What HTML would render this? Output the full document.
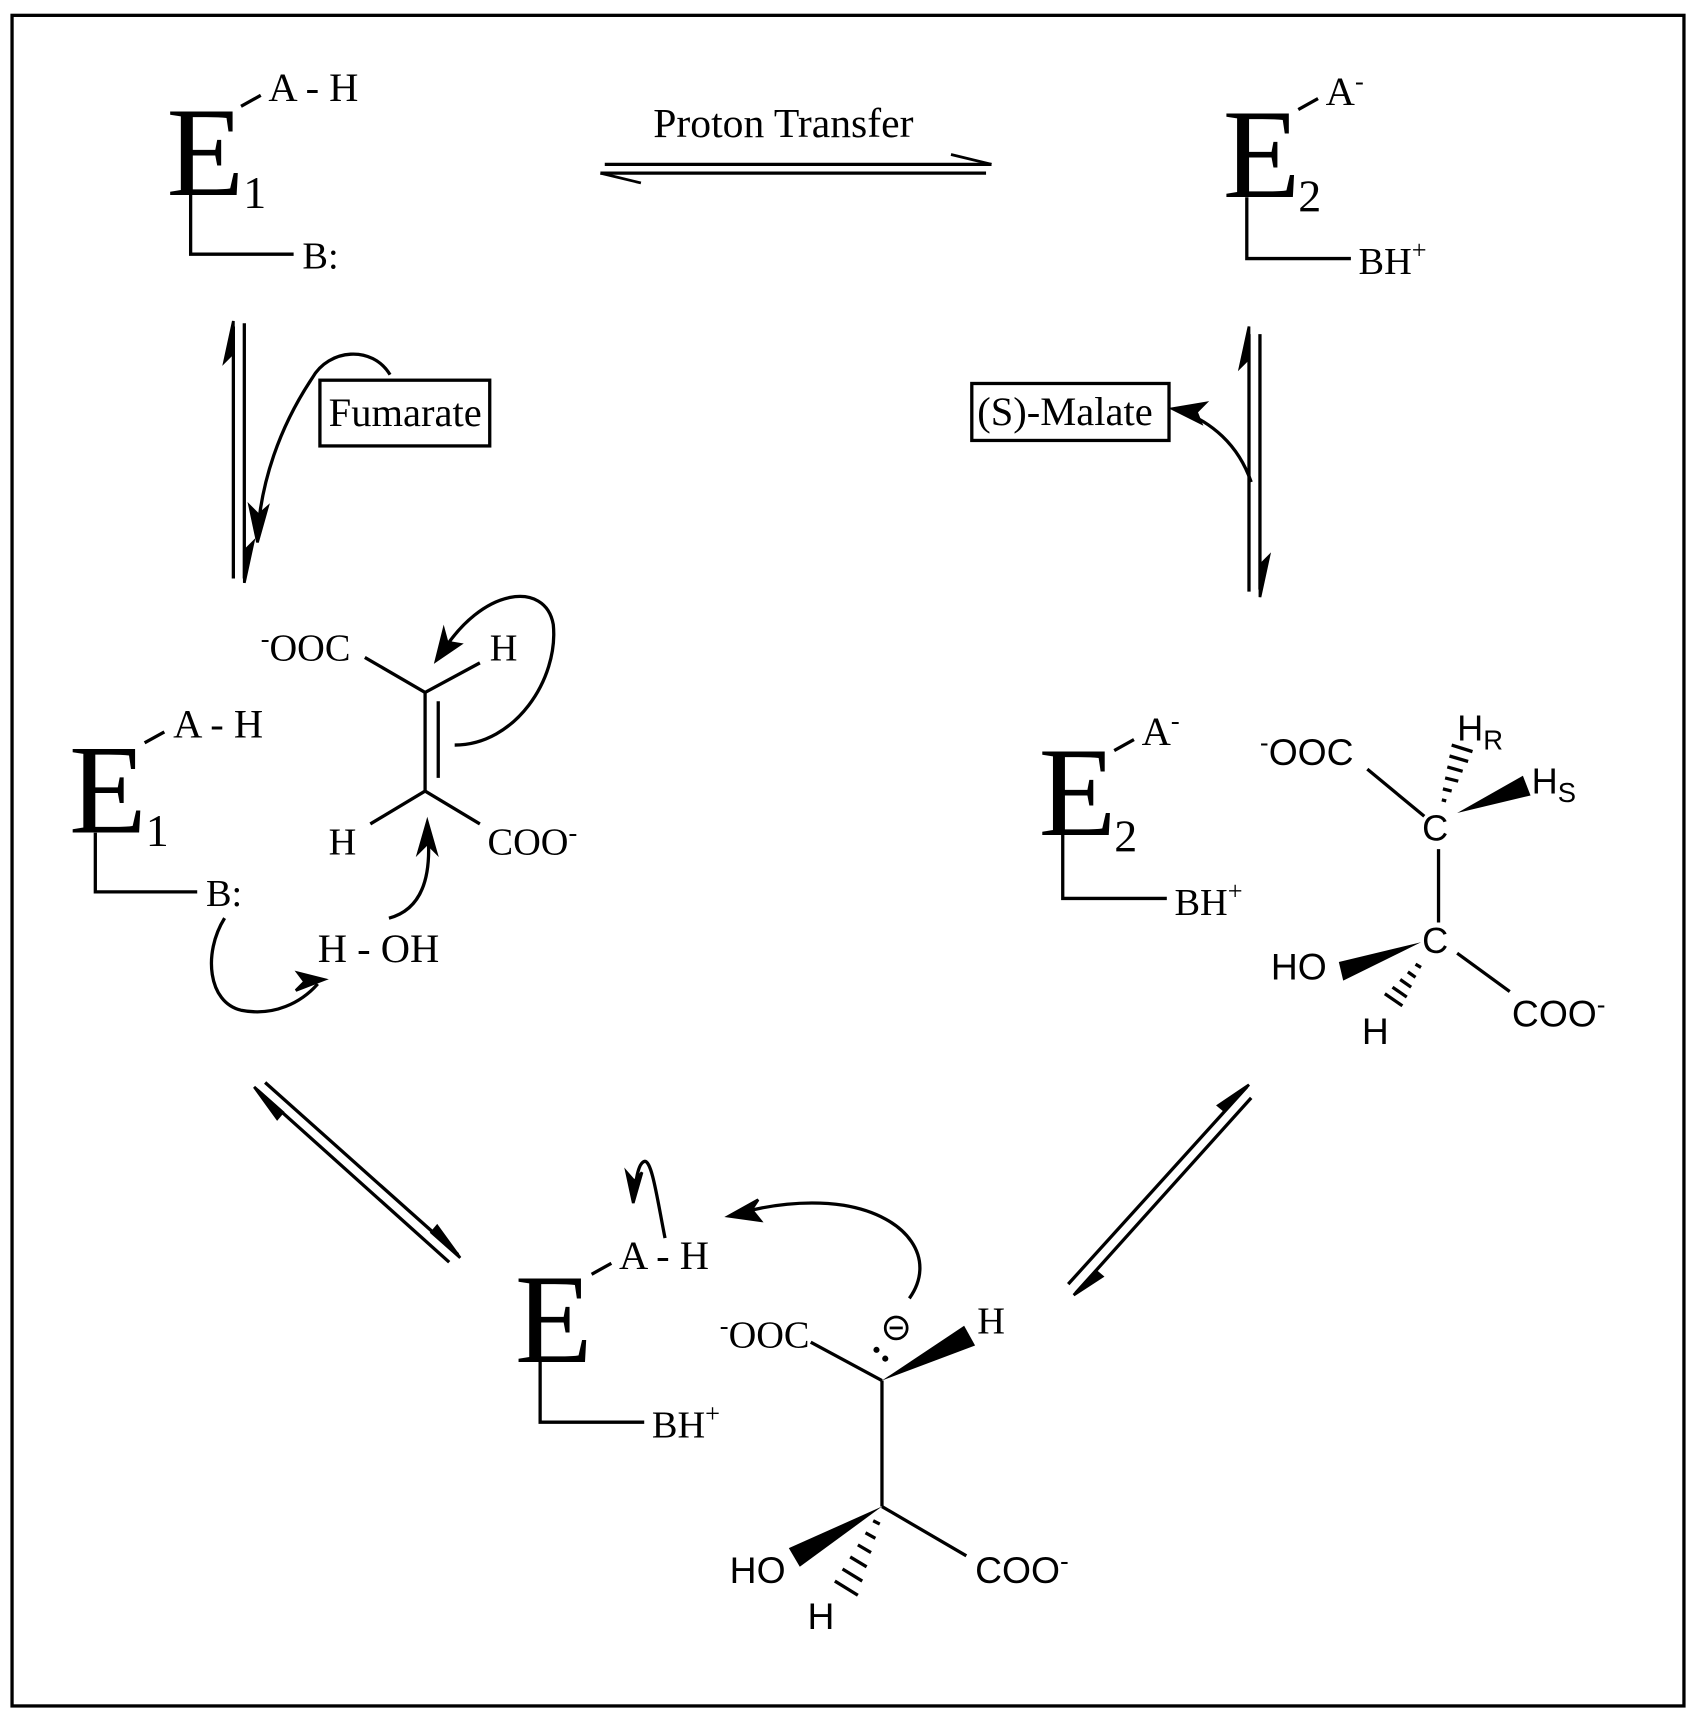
<!DOCTYPE html>
<html><head><meta charset="utf-8"><style>
html,body{margin:0;padding:0;background:#fff;}
svg{display:block}
.s{font-family:"Liberation Serif",serif;}
.a{font-family:"Liberation Sans",sans-serif;}
</style></head><body>
<svg width="1696" height="1718" viewBox="0 0 1548 1568" preserveAspectRatio="none" xmlns="http://www.w3.org/2000/svg">
<rect x="11" y="14" width="1526" height="1543" fill="none" stroke="#000" stroke-width="3"/>
<g stroke="#000" stroke-width="3" fill="none">
<line x1="220" y1="97" x2="238" y2="87"/>
<polyline points="174,178 174,232 268,232"/>
<line x1="1185" y1="100" x2="1203" y2="90"/>
<polyline points="1138,180 1138,236 1233,236"/>
<line x1="552" y1="150" x2="905" y2="150"/>
<line x1="548" y1="158" x2="900" y2="158"/>
<line x1="213" y1="298" x2="213" y2="528"/>
<line x1="223" y1="295" x2="223" y2="528"/>
<path d="M356,342 C340,315 300,318 285,345 C255,390 238,440 235,490"/>
<rect x="292" y="347" width="155" height="60"/>
<line x1="1140" y1="305" x2="1140" y2="540"/>
<line x1="1150" y1="305" x2="1150" y2="538"/>
<path d="M1142,440 C1130,405 1105,385 1078,375"/>
<rect x="887" y="350" width="180" height="52"/>
<line x1="132" y1="678" x2="150" y2="668"/>
<polyline points="87,760 87,814 180,814"/>
<line x1="333" y1="600" x2="388" y2="632"/>
<line x1="388" y1="632" x2="438" y2="605"/>
<line x1="388" y1="632" x2="388" y2="722"/>
<line x1="400" y1="640" x2="400" y2="710"/>
<line x1="388" y1="722" x2="338" y2="752"/>
<line x1="388" y1="722" x2="438" y2="752"/>
<path d="M415,680 C470,680 510,620 505,570 C498,530 440,535 402,598"/>
<path d="M355,838 C385,830 395,800 390,755"/>
<path d="M205,838 C185,870 190,915 220,922 C250,928 275,915 290,898"/>
<line x1="235" y1="995" x2="410" y2="1152"/>
<line x1="242" y1="988" x2="418" y2="1145"/>
<line x1="975" y1="1172" x2="1138" y2="992"/>
<line x1="982" y1="1180" x2="1142" y2="1002"/>
<line x1="540" y1="1163" x2="558" y2="1153"/>
<polyline points="493,1243 493,1298 588,1298"/>
<path d="M607,1130 C600,1095 595,1058 588,1060 C582,1062 580,1080 579,1092"/>
<path d="M830,1185 C855,1150 830,1110 770,1100 C735,1095 700,1100 672,1108"/>
<line x1="740" y1="1225" x2="805" y2="1260"/>
<line x1="805" y1="1260" x2="805" y2="1375"/>
<line x1="805" y1="1375" x2="882" y2="1420"/>
<circle cx="818" cy="1212" r="10" stroke-width="2.5"/>
<line x1="812" y1="1212" x2="824" y2="1212" stroke-width="2.5"/>
<line x1="1017" y1="685" x2="1035" y2="675"/>
<polyline points="970,762 970,820 1065,820"/>
<line x1="1248" y1="702" x2="1300" y2="745"/>
<line x1="1313" y1="775" x2="1313" y2="842"/>
<line x1="1330" y1="870" x2="1378" y2="905"/>
</g>
<g fill="#000" stroke="#000" stroke-width="2.5">
<line x1="905" y1="150" x2="868" y2="141"/>
<line x1="548" y1="158" x2="585" y2="167"/>
<polygon points="213,293 205,330 213,322"/>
<polygon points="223,532 231,495 223,503"/>
<polygon points="1140,298 1132,335 1140,327"/>
<polygon points="1150,545 1158,508 1150,516"/>
<polygon points="232,992 253,1021 258,1015"/>
<polygon points="420,1148 399,1119 394,1125"/>
<polygon points="1140,990 1112,1009 1118,1014"/>
<polygon points="980,1182 1006,1165 1000,1160"/>
<polygon points="235,495 228,462 236,470 244,463"/>
<polygon points="1070,373 1100,368 1092,376 1096,386"/>
<polygon points="398,603 405,575 408,586 420,588"/>
<polygon points="390,750 382,778 390,770 398,778"/>
<polygon points="296,894 270,904 278,896 272,888"/>
<polygon points="578,1098 572,1070 579,1078 586,1070"/>
<polygon points="665,1110 692,1095 686,1104 694,1114"/>
</g>
<g fill="#000">
<polygon points="805,1260 880,1210 890,1228"/>
<polygon points="805,1375 720,1413 730,1430"/>
<circle cx="800" cy="1232" r="2.8"/><circle cx="808" cy="1240" r="2.8"/>
<polygon points="1330,742 1390,708 1397,726"/>
<polygon points="1297,860 1222,878 1226,895"/>
</g>
<g stroke="#000" stroke-width="3">
<line x1="1316" y1="730" x2="1320" y2="731"/>
<line x1="1317" y1="720" x2="1325" y2="722"/>
<line x1="1319" y1="710" x2="1331" y2="713"/>
<line x1="1321" y1="700" x2="1335" y2="704"/>
<line x1="1323" y1="690" x2="1340" y2="695"/>
<line x1="1325" y1="680" x2="1344" y2="686"/>
<line x1="1292" y1="880" x2="1297" y2="883"/>
<line x1="1285" y1="887" x2="1292" y2="892"/>
<line x1="1278" y1="894" x2="1288" y2="901"/>
<line x1="1271" y1="901" x2="1284" y2="910"/>
<line x1="1264" y1="907" x2="1280" y2="918"/>
<line x1="797" y1="1388" x2="803" y2="1391"/>
<line x1="790" y1="1399" x2="799" y2="1404"/>
<line x1="783" y1="1410" x2="795" y2="1417"/>
<line x1="776" y1="1421" x2="791" y2="1430"/>
<line x1="769" y1="1432" x2="787" y2="1443"/>
<line x1="762" y1="1443" x2="783" y2="1456"/>
</g>
<g class="s" fill="#000">
<text x="152" y="178" font-size="116">E</text>
<text x="222" y="190" font-size="42">1</text>
<text x="245" y="92" font-size="37">A - H</text>
<text x="276" y="245" font-size="35">B:</text>
<text x="715" y="125" font-size="38" text-anchor="middle">Proton Transfer</text>
<text x="1116" y="180" font-size="116">E</text>
<text x="1185" y="193" font-size="42">2</text>
<text x="1210" y="96" font-size="37">A<tspan font-size="24" dy="-14">-</tspan></text>
<text x="1240" y="250" font-size="35">BH<tspan font-size="24" dy="-14">+</tspan></text>
<text x="300" y="389" font-size="37">Fumarate</text>
<text x="892" y="388" font-size="37">(S)-Malate</text>
<text x="63" y="760" font-size="116">E</text>
<text x="133" y="772" font-size="42">1</text>
<text x="158" y="673" font-size="37">A - H</text>
<text x="188" y="827" font-size="35">B:</text>
<text x="238" y="603" font-size="35"><tspan font-size="24" dy="-12">-</tspan><tspan dy="12">OOC</tspan></text>
<text x="447" y="603" font-size="35">H</text>
<text x="300" y="780" font-size="35">H</text>
<text x="445" y="780" font-size="35">COO<tspan font-size="24" dy="-12">-</tspan></text>
<text x="290" y="878" font-size="37">H - OH</text>
<text x="470" y="1243" font-size="116">E</text>
<text x="565" y="1158" font-size="37">A - H</text>
<text x="595" y="1312" font-size="35">BH<tspan font-size="24" dy="-14">+</tspan></text>
<text x="657" y="1230" font-size="35"><tspan font-size="24" dy="-12">-</tspan><tspan dy="12">OOC</tspan></text>
<text x="892" y="1217" font-size="35">H</text>
<text x="948" y="762" font-size="116">E</text>
<text x="1017" y="777" font-size="42">2</text>
<text x="1042" y="680" font-size="37">A<tspan font-size="24" dy="-14">-</tspan></text>
<text x="1072" y="835" font-size="35">BH<tspan font-size="24" dy="-14">+</tspan></text>
</g>
<g class="a" fill="#000">
<text x="890" y="1445" font-size="34">COO<tspan font-size="24" dy="-12">-</tspan></text>
<text x="666" y="1445" font-size="34">HO</text>
<text x="737" y="1487" font-size="34">H</text>
<text x="1150" y="698" font-size="34"><tspan font-size="24" dy="-12">-</tspan><tspan dy="12">OOC</tspan></text>
<text x="1298" y="767" font-size="33">C</text>
<text x="1330" y="676" font-size="33">H<tspan font-size="25" dy="8">R</tspan></text>
<text x="1398" y="724" font-size="33">H<tspan font-size="25" dy="8">S</tspan></text>
<text x="1298" y="870" font-size="33">C</text>
<text x="1380" y="937" font-size="34">COO<tspan font-size="24" dy="-12">-</tspan></text>
<text x="1160" y="894" font-size="34">HO</text>
<text x="1243" y="953" font-size="34">H</text>
</g>
</svg>
</body></html>
